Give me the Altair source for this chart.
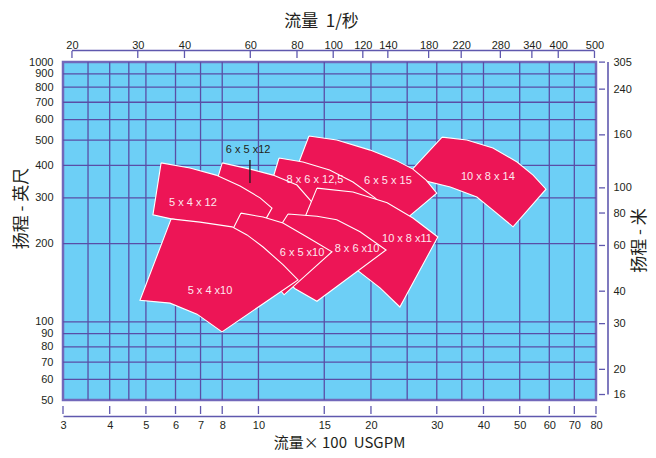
import altair as alt
import pandas as pd

# ---------------- axis values ----------------
flow_ticks = [3, 4, 5, 6, 7, 8, 10, 15, 20, 30, 40, 50, 60, 70, 80]            # x 100 USGPM
flow_grid = [3.5, 4, 4.5, 5, 6, 7, 8, 10, 15, 20, 25, 30, 35, 40, 50, 60, 70]
head_ticks = [50, 60, 70, 80, 90, 100, 200, 300, 400, 500, 600, 700, 800, 900, 1000]  # ft
head_grid = [60, 70, 80, 90, 100, 200, 300, 400, 500, 600, 700, 800, 900]
ls_ticks = [20, 30, 40, 60, 80, 100, 120, 140, 180, 220, 280, 340, 400, 500]   # l/s
m_ticks = [305, 240, 160, 100, 80, 60, 40, 30, 20, 16]                          # m

# ---------------- pump ranges: outline points (flow x100 USGPM, head ft) ----------------
r_10x8x14_q = [31.0, 36.1, 42.4, 49.2, 54.3, 58.8, 48.0, 42.4, 38.4, 32.6, 27.4, 24.7]
r_10x8x14_h = [514, 501, 467, 412, 367, 324, 232, 269, 302, 330, 351, 361]

r_6x5x15_q = [13.65, 16.2, 19.9, 23.2, 25.9, 28.1, 30.0, 23.6, 19.9, 16.5, 12.6]
r_6x5x15_h = [519, 501, 458, 420, 387, 351, 313, 234, 282, 327, 384]

r_8x6x125_q = [11.35, 13.16, 15.5, 17.9, 20.5, 21.4, 17.05, 13.7, 10.6]
r_8x6x125_h = [427, 412, 384, 345, 300, 282, 198, 251, 308]

r_6x5x12_q = [8.0, 9.5, 10.94, 12.68, 13.9, 14.4, 12.9, 10.74, 8.93, 7.5]
r_6x5x12_h = [409, 387, 367, 336, 289, 265, 189, 222, 258, 300]

r_10x8x11_q = [14.34, 17.9, 22.1, 25.9, 30.2, 23.9, 21.15, 18.7, 15.5, 12.9]
r_10x8x11_h = [327, 316, 287, 251, 212, 114, 135, 155, 189, 226]

r_5x4x12_q = [5.49, 6.56, 7.7, 8.93, 10.1, 10.87, 10.22, 8.5, 6.98, 5.84, 5.22]
r_5x4x12_h = [409, 391, 367, 333, 300, 274, 234, 226, 238, 249, 258]

r_8x6x10_q = [12.0, 14.34, 16.2, 18.7, 21.95, 14.34, 12.53, 11.42, 10.41]
r_8x6x10_h = [260, 255, 247, 222, 189, 120, 134, 151, 189]

r_6x5x10_q = [8.98, 10.29, 11.63, 13.49, 15.73, 11.71, 10.22, 8.14]
r_6x5x10_h = [262, 253, 240, 212, 186, 127, 161, 198]

r_5x4x10_q = [5.84, 6.98, 8.5, 9.32, 10.29, 11.63, 12.76, 7.99, 6.85, 5.80, 4.82]
r_5x4x10_h = [249, 242, 232, 216, 194, 166, 145, 91.4, 107, 118, 121]

# drawing order: back to front
ranges = [
    ("10x8x14", r_10x8x14_q, r_10x8x14_h),
    ("6x5x15", r_6x5x15_q, r_6x5x15_h),
    ("8x6x12.5", r_8x6x125_q, r_8x6x125_h),
    ("6x5x12", r_6x5x12_q, r_6x5x12_h),
    ("10x8x11", r_10x8x11_q, r_10x8x11_h),
    ("5x4x12", r_5x4x12_q, r_5x4x12_h),
    ("8x6x10", r_8x6x10_q, r_8x6x10_h),
    ("6x5x10", r_6x5x10_q, r_6x5x10_h),
    ("5x4x10", r_5x4x10_q, r_5x4x10_h),
]

# ---------------- labels ----------------
label_text = ["10 x 8 x 14", "6 x 5 x 15", "8 x 6 x 12,5", "10 x 8 x11",
              "5 x 4 x 12", "8 x 6 x10", "6 x 5 x10", "5 x 4 x10"]
label_q = [41.1, 22.2, 14.17, 24.97, 6.68, 18.35, 13.08, 7.42]
label_h = [361, 348, 351, 208, 287, 191, 184, 131]

callout_text = ["6 x 5 x12"]
callout_q = [9.38]
callout_h = [458]
leader_q = [9.49]
leader_h = [420]
leader_h2 = [342]

# ---------------- styles ----------------
BG = "#6dcff6"
GRID = "#5a4ea6"
FRAME = "#7268ba"
AXIS = "#5f58ae"
PUMP = "#ed1556"
TXT = "#231f20"
NUM_FONT = "Liberation Sans"
CJK_FONT = "Noto Sans CJK SC"

W, H = 533, 338

USGPM_TO_LS = 6.30902   # 100 USGPM in l/s
FT_TO_M = 0.3048

def xs():
    return alt.Scale(type="log", domain=[3, 80], nice=False)

def ys():
    return alt.Scale(type="log", domain=[50, 1000], nice=False)

ls_scale = alt.Scale(type="log", domain=[3 * USGPM_TO_LS, 80 * USGPM_TO_LS], nice=False)
m_scale = alt.Scale(type="log", domain=[50 * FT_TO_M, 305.3], nice=False)

lab = dict(labelFont=NUM_FONT, labelFontSize=11, labelColor=TXT,
           labelFlush=False, labelOverlap=False, labelBound=False, format="d", grid=False)
ttl = dict(titleFont=CJK_FONT, titleFontWeight="normal", titleColor=TXT,
           titleBaseline="middle", titleAlign="center")

# ---------------- layers ----------------
grid_x = alt.Chart(pd.DataFrame({"q": flow_grid})).mark_rule(color=GRID, strokeWidth=1.3).encode(
    x=alt.X("q:Q", scale=xs(), axis=alt.Axis(
        orient="bottom", values=flow_ticks, offset=16,
        domainColor=AXIS, domainWidth=1.6, ticks=False, labelPadding=3,
        title="流量×\u00a0100\u00a0\u00a0USGPM", titleFontSize=15, titleX=276, titleY=26,
        **lab, **ttl)),
    y=alt.value(0), y2=alt.value(H))

grid_y = alt.Chart(pd.DataFrame({"h": head_grid})).mark_rule(color=GRID, strokeWidth=1.3).encode(
    y=alt.Y("h:Q", scale=ys(), axis=alt.Axis(
        orient="left", values=head_ticks, domain=False, ticks=False, labelPadding=10,
        title="扬程 - 英尺", titleFontSize=17, titleAngle=270, titleX=-42, titleY=146,
        **lab, **ttl)),
    x=alt.value(0), x2=alt.value(W))

bottom_ticks = alt.Chart(pd.DataFrame({"q": flow_ticks})).mark_rule(color=AXIS, strokeWidth=1.3).encode(
    x=alt.X("q:Q", scale=xs(), axis=None), y=alt.value(H + 6), y2=alt.value(H + 14))

range_layers = []
for name, qs, hs in ranges:
    rows = [{"q": q, "h": h, "i": i} for i, (q, h) in enumerate(zip(qs + qs[:1], hs + hs[:1]))]
    range_layers.append(
        alt.Chart(pd.DataFrame(rows)).mark_line(
            fill=PUMP, stroke="white", strokeWidth=1.1, strokeJoin="miter").encode(
            x=alt.X("q:Q", scale=xs(), axis=None),
            y=alt.Y("h:Q", scale=ys(), axis=None),
            order=alt.Order("i:Q"))
    )

labels = alt.Chart(pd.DataFrame({"t": label_text, "q": label_q, "h": label_h})).mark_text(
    font=NUM_FONT, fontSize=11, color="#fde8ef", align="center", baseline="middle").encode(
    x=alt.X("q:Q", scale=xs(), axis=None), y=alt.Y("h:Q", scale=ys(), axis=None), text="t:N")

callout = alt.Chart(pd.DataFrame({"t": callout_text, "q": callout_q, "h": callout_h})).mark_text(
    font=NUM_FONT, fontSize=11, color=TXT, align="center", baseline="middle").encode(
    x=alt.X("q:Q", scale=xs(), axis=None), y=alt.Y("h:Q", scale=ys(), axis=None), text="t:N")

leader = alt.Chart(pd.DataFrame({"q": leader_q, "h": leader_h, "h2": leader_h2})).mark_rule(
    color=TXT, strokeWidth=1.4).encode(
    x=alt.X("q:Q", scale=xs(), axis=None), y=alt.Y("h:Q", scale=ys(), axis=None), y2="h2:Q")

# top axis (l/s)
top_line = alt.Chart(pd.DataFrame({"a": [ls_ticks[0]], "b": [ls_ticks[-1]]})).mark_rule(
    color=AXIS, strokeWidth=1.6).encode(
    x=alt.X("a:Q", scale=ls_scale, axis=alt.Axis(
        orient="top", values=ls_ticks, domain=False, ticks=False, labelPadding=12,
        title="流量\u00a0\u00a01/秒", titleFontSize=17, titleX=258, titleY=-41,
        **lab, **ttl)),
    x2="b:Q", y=alt.value(-11.5))

top_ticks = alt.Chart(pd.DataFrame({"a": ls_ticks})).mark_rule(color=AXIS, strokeWidth=1.3).encode(
    x=alt.X("a:Q", scale=ls_scale, axis=None), y=alt.value(-11), y2=alt.value(-4))

# right axis (m)
right_line = alt.Chart(pd.DataFrame({"a": [m_ticks[0]], "b": [m_ticks[-1]]})).mark_rule(
    color=AXIS, strokeWidth=1.6).encode(
    y=alt.Y("a:Q", scale=m_scale, axis=alt.Axis(
        orient="right", values=m_ticks, domain=False, ticks=False, labelPadding=17,
        title="扬程 - 米", titleFontSize=17, titleAngle=270, titleX=43, titleY=178,
        **lab, **ttl)),
    y2="b:Q", x=alt.value(W + 12))

right_ticks = alt.Chart(pd.DataFrame({"a": m_ticks})).mark_rule(color=AXIS, strokeWidth=1.3).encode(
    y=alt.Y("a:Q", scale=m_scale, axis=None), x=alt.value(W + 3), x2=alt.value(W + 9))

chart = alt.layer(
    grid_x, grid_y, *range_layers, labels, callout, leader, bottom_ticks,
    top_line, top_ticks, right_line, right_ticks
).resolve_scale(x="independent", y="independent").properties(
    width=W, height=H,
    padding={"left": 55, "top": 54, "right": 52, "bottom": 50},
    autosize=alt.AutoSizeParams(type="none"),
    background="white",
).configure_view(fill=BG, stroke=FRAME, strokeWidth=2.5)

chart.save("out.html", embed_options={"renderer": "svg", "actions": False})
